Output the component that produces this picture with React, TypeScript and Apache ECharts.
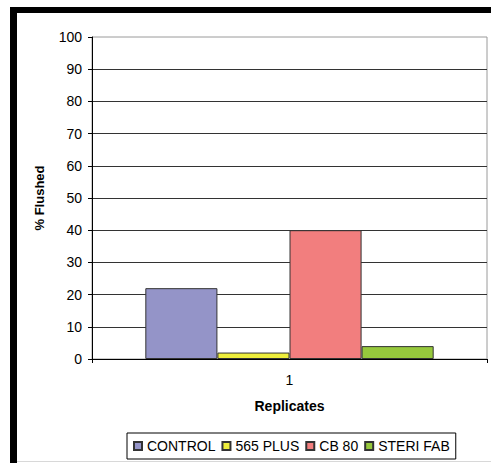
import React, { useEffect, useRef } from "react";
import * as echarts from "echarts";

const categories = ["1"];
const seriesNames = ["CONTROL", "565 PLUS", "CB 80", "STERI FAB"];
const controlValues = [22];
const plus565Values = [2];
const cb80Values = [40];
const steriFabValues = [4];
const seriesColors = ["#9494C8", "#EEEE3C", "#F27E7E", "#96C83C"];

const FONT = "'Liberation Sans', Arial, sans-serif";

export default function App() {
  const ref = useRef<HTMLDivElement>(null);
  useEffect(() => {
    if (!ref.current) return;
    const chart = echarts.init(ref.current, null, { renderer: "svg" });
    const values = [controlValues, plus565Values, cb80Values, steriFabValues];
    chart.setOption({
      animation: false,
      backgroundColor: "#ffffff",
      textStyle: { fontFamily: FONT, color: "#000" },
      grid: {
        left: 92,
        top: 37,
        right: 4,
        bottom: 104,
        show: true,
        borderColor: "#9a9a9a",
        borderWidth: 1,
        backgroundColor: "transparent",
      },
      legend: {
        data: seriesNames,
        left: 127,
        top: 433,
        orient: "horizontal",
        icon: "rect",
        itemWidth: 8,
        itemHeight: 8,
        itemGap: 6,
        padding: [6, 6],
        borderColor: "#000",
        borderWidth: 1,
        textStyle: { fontFamily: FONT, fontSize: 14, color: "#000" },
      },
      xAxis: {
        type: "category",
        data: categories,
        name: "Replicates",
        nameLocation: "middle",
        nameGap: 40,
        nameTextStyle: { fontFamily: FONT, fontSize: 14, fontWeight: "bold", color: "#000" },
        axisLine: { lineStyle: { color: "#000", width: 1 } },
        axisTick: { show: true, length: 4, alignWithLabel: false, lineStyle: { color: "#000" } },
        axisLabel: { margin: 14, fontFamily: FONT, fontSize: 14, color: "#000" },
        splitLine: { show: false },
      },
      yAxis: {
        type: "value",
        min: 0,
        max: 100,
        interval: 10,
        name: "% Flushed",
        nameLocation: "middle",
        nameGap: 46,
        nameRotate: 90,
        nameTextStyle: { fontFamily: FONT, fontSize: 13, fontWeight: "bold", color: "#000" },
        axisLine: { show: true, lineStyle: { color: "#000", width: 1 } },
        axisTick: { show: true, length: 4, lineStyle: { color: "#000" } },
        axisLabel: { margin: 10, fontFamily: FONT, fontSize: 14, color: "#000" },
        splitLine: {
          show: true,
          showMinLine: false,
          showMaxLine: false,
          lineStyle: { color: "#333", width: 1 },
        },
      },
      series: seriesNames.map((name, i) => ({
        name,
        type: "bar",
        data: values[i],
        barGap: "0%",
        barCategoryGap: "27%",
        itemStyle: { color: seriesColors[i], borderColor: "#333", borderWidth: 1 },
      })),
      graphic: [
        { type: "rect", shape: { x: 10, y: 7, width: 481, height: 6 }, style: { fill: "#000" } },
        { type: "rect", shape: { x: 10, y: 7, width: 7, height: 456 }, style: { fill: "#000" } },
        { type: "line", shape: { x1: 17, y1: 461.5, x2: 491, y2: 461.5 }, style: { stroke: "#d8d8d8", lineWidth: 1 } },
      ],
    });
    return () => chart.dispose();
  }, []);
  return (
    <div
      ref={ref}
      style={{ position: "absolute", left: 0, top: 0, width: 491, height: 463 }}
    />
  );
}
